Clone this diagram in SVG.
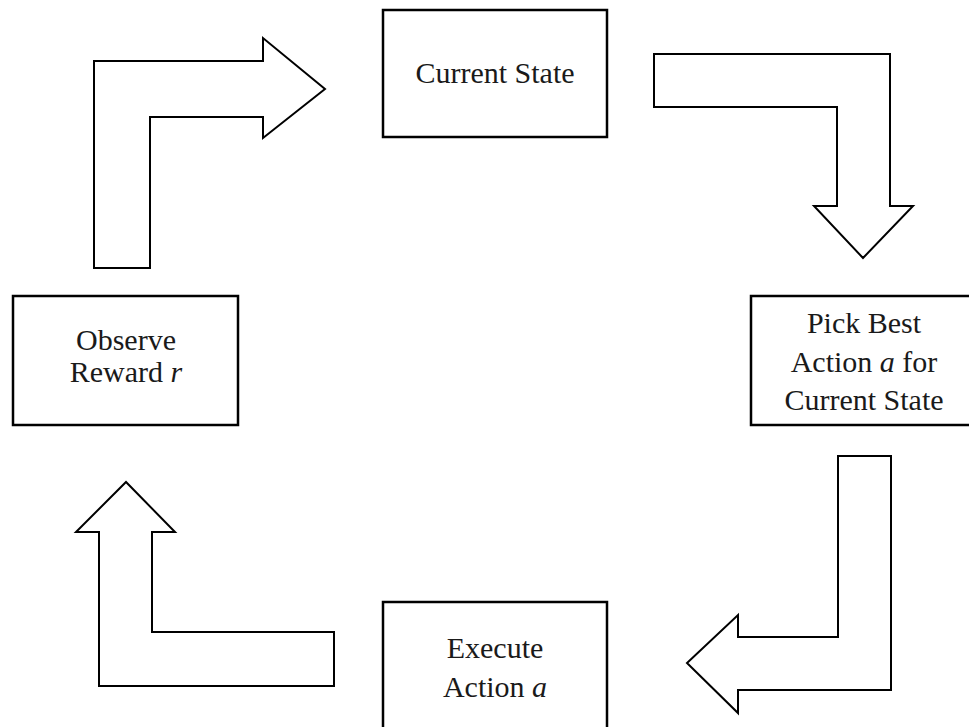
<svg xmlns="http://www.w3.org/2000/svg" width="969" height="727" viewBox="0 0 969 727">
<style>
.box{fill:#fff;stroke:#000;stroke-width:2.5}
.arr{fill:#fff;stroke:#000;stroke-width:2;stroke-linejoin:miter}
text{font-family:"Liberation Serif","Times New Roman",serif;font-size:30px;fill:#1a1a1a;text-anchor:middle}
.i{font-style:italic}
</style>
<rect width="969" height="727" fill="#fff"/>
<g id="connectors">
<polygon id="arrow-reward-to-state" class="arr" points="94,268 94,61 263,61 263,38 325,89 263,138 263,117 150,117 150,268"/>
<polygon id="arrow-state-to-pick" class="arr" points="654,54 890,54 890,206 913,206 863,258 814,206 837,206 837,107 654,107"/>
<polygon id="arrow-pick-to-execute" class="arr" points="838,456 891,456 891,690 738,690 738,713 687,663 738,615 738,637 838,637"/>
<polygon id="arrow-execute-to-reward" class="arr" points="99,686 334,686 334,632 152,632 152,532 175,532 126,482 76,532 99,532"/>
</g>
<g id="current-state">
<rect class="box" x="383" y="10" width="224" height="127"/>
<text x="495" y="83">Current State</text>
</g>
<g id="pick-best-action">
<rect class="box" x="751" y="296" width="225" height="129"/>
<text x="864" y="333">Pick Best</text>
<text x="864" y="372">Action <tspan class="i">a</tspan> for</text>
<text x="864" y="410">Current State</text>
</g>
<g id="execute-action">
<rect class="box" x="383" y="602" width="224" height="140"/>
<text x="495" y="658">Execute</text>
<text x="495" y="697">Action <tspan class="i">a</tspan></text>
</g>
<g id="observe-reward">
<rect class="box" x="13" y="296" width="225" height="129"/>
<text x="126" y="350">Observe</text>
<text x="126" y="382">Reward <tspan class="i">r</tspan></text>
</g>
</svg>
